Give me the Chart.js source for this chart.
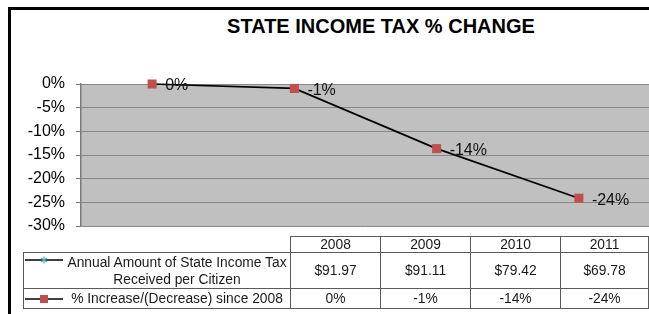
<!DOCTYPE html>
<html>
<head>
<meta charset="utf-8">
<script src="https://cdn.jsdelivr.net/npm/chart.js@4/dist/chart.umd.min.js"></script>
<style>
  html, body { margin: 0; padding: 0; background: #fff; }
  #wrap { position: relative; width: 649px; height: 314px; overflow: hidden; background: #fff;
          font-family: Arial, "Liberation Sans", sans-serif; }
  #frame { position: absolute; left: 8px; top: 7px; width: 900px; height: 500px;
           border: 3px solid #000; box-sizing: border-box; }
  #title { position: absolute; left: 0; top: 16px; width: 762px; text-align: center;
           font-weight: bold; font-size: 20px; line-height: 20px; color: #000; }
  #chartBox { position: absolute; left: 0; top: 0; width: 700px; height: 314px; }
  #tbl { position: absolute; left: 23px; top: 236px; border-collapse: collapse; table-layout: fixed;
         font-size: 13.8px; color: #1a1a1a; }
  #tbl td { border: 1px solid #5a5a5a; padding: 0; text-align: center; vertical-align: middle; }
  #tbl td.blank { border: none; }
  #tbl td.leg { padding-left: 40px; line-height: 17px; }
  .key { position: absolute; }
</style>
</head>
<body>
<div id="wrap">
  <div id="frame"></div>
  <div id="title"></div>
  <div id="chartBox"><canvas id="c" width="700" height="314"></canvas></div>
  <table id="tbl"></table>
  <svg class="key" style="left:23px;top:253px" width="44" height="14">
    <line x1="2" y1="7" x2="40" y2="7" stroke="#000" stroke-width="1.5"/>
    <g stroke="#4bacc6" stroke-width="1.2">
      <line x1="21" y1="3.5" x2="21" y2="10.5"/>
      <line x1="18" y1="5" x2="24" y2="9"/>
      <line x1="18" y1="9" x2="24" y2="5"/>
    </g>
  </svg>
  <svg class="key" style="left:23px;top:292px" width="44" height="14">
    <line x1="2" y1="7" x2="40" y2="7" stroke="#000" stroke-width="1.5"/>
    <rect x="17" y="3" width="8" height="8" fill="#c0504d"/>
  </svg>
</div>
<script>
// ---- data ----
const titleText = "STATE INCOME TAX % CHANGE";
const years = ["2008", "2009", "2010", "2011"];
const amountLabel = ["Annual Amount of State Income Tax", "Received per Citizen"];
const amountPerCitizen = ["$91.97", "$91.11", "$79.42", "$69.78"];
const changeLabel = "% Increase/(Decrease) since 2008";
const pctChange = [0, -0.94, -13.65, -24.13];
const pctLabels = ["0%", "-1%", "-14%", "-24%"];
const yMin = -30, yMax = 0, yStep = 5;

document.getElementById('title').textContent = titleText;

// ---- table ----
const tbl = document.getElementById('tbl');
const colW = [267, 90, 90, 90, 88];
const cg = document.createElement('colgroup');
colW.forEach(w => { const c = document.createElement('col'); c.style.width = w + 'px'; cg.appendChild(c); });
tbl.appendChild(cg);
function addRow(h, cells) {
  const tr = document.createElement('tr');
  tr.style.height = h + 'px';
  cells.forEach(c => tr.appendChild(c));
  tbl.appendChild(tr);
}
function td(text, cls) {
  const d = document.createElement('td');
  if (cls) d.className = cls;
  if (Array.isArray(text)) {
    text.forEach((t, i) => { if (i) d.appendChild(document.createElement('br')); d.appendChild(document.createTextNode(t)); });
  } else d.textContent = text;
  return d;
}
addRow(15, [td('', 'blank')].concat(years.map(y => td(y))));
addRow(36, [td(amountLabel, 'leg')].concat(amountPerCitizen.map(v => td(v))));
addRow(20, [td(changeLabel, 'leg')].concat(pctLabels.map(v => td(v))));

// ---- chart ----
const bgPlugin = {
  id: 'plotBg',
  beforeDraw(chart) {
    const a = chart.chartArea, ctx = chart.ctx;
    ctx.save();
    ctx.fillStyle = '#c0c0c0';
    ctx.fillRect(a.left, a.top, a.right - a.left, a.bottom - a.top);
    ctx.restore();
  }
};
const labelPlugin = {
  id: 'ptLabels',
  afterDatasetsDraw(chart) {
    const ctx = chart.ctx;
    const meta = chart.getDatasetMeta(0);
    ctx.save();
    ctx.font = '16px Arial, "Liberation Sans", sans-serif';
    ctx.fillStyle = '#111';
    ctx.textAlign = 'left';
    ctx.textBaseline = 'middle';
    meta.data.forEach((p, i) => {
      ctx.fillText(pctLabels[i], p.x + 13, p.y + 2);
    });
    ctx.restore();
  }
};

new Chart(document.getElementById('c'), {
  type: 'line',
  data: {
    labels: years,
    datasets: [{
      label: changeLabel,
      data: pctChange,
      clip: false,
      borderColor: '#000',
      borderWidth: 1.75,
      pointStyle: 'rect',
      pointRadius: 6.4,
      pointBorderWidth: 0,
      pointBackgroundColor: '#c0504d',
      pointBorderColor: '#c0504d',
      tension: 0
    }]
  },
  options: {
    responsive: false,
    animation: false,
    events: [],
    layout: { padding: { left: 0, top: 84, right: 50, bottom: 88 } },
    plugins: { legend: { display: false }, title: { display: false }, tooltip: { enabled: false } },
    scales: {
      x: { display: false, offset: true },
      y: {
        min: yMin, max: yMax,
        afterFit(s) { s.width = 81; },
        ticks: {
          stepSize: yStep,
          padding: 11,
          color: '#000',
          font: { size: 16, family: 'Arial, "Liberation Sans", sans-serif' },
          callback: v => v + '%'
        },
        grid: { color: '#888888', lineWidth: 1, tickLength: 5, tickColor: '#777' },
        border: { display: true, color: '#7a7a7a', width: 1.5 }
      }
    }
  },
  plugins: [bgPlugin, labelPlugin]
});
</script>
</body>
</html>
